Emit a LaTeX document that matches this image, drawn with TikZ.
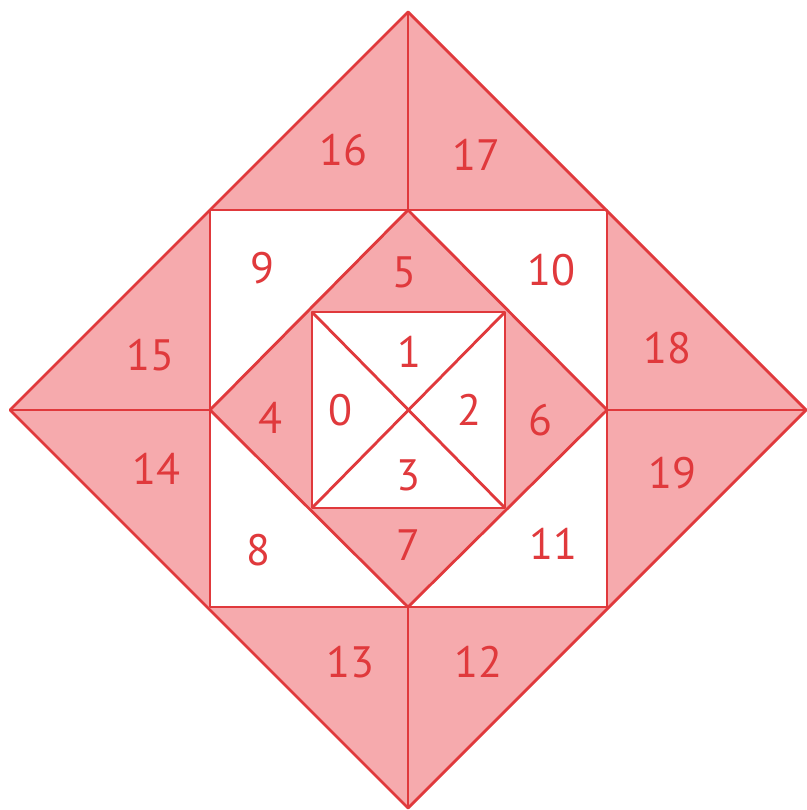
\documentclass[tikz,border=0pt]{standalone}
\usepackage{fontspec}
\setmainfont{PT Sans}
\definecolor{tilered}{HTML}{E0393C}
\definecolor{tilepink}{HTML}{F6AAAD}
\begin{document}
\begin{tikzpicture}[
    x=0.01cm, y=-0.01cm,     % 1 unit = 1 pixel
    edge/.style={draw=tilered, line width=0.8pt, line join=round},
    num/.style={text=tilered, font=\fontsize{12.5}{14}\selectfont}
]
    \useasboundingbox[fill=white] (0,0) rectangle (807,810);

    % --- 1. corner points ---
    \coordinate (T) at (408,12);
    \coordinate (L) at (10,410);
    \coordinate (R) at (806,410);
    \coordinate (B) at (408,808);
    % square
    \coordinate (s1) at (210,210);
    \coordinate (s2) at (607,210);
    \coordinate (s3) at (607,607);
    \coordinate (s4) at (210,607);
    % inner diamond
    \coordinate (dT) at (408,210);
    \coordinate (dR) at (607,410);
    \coordinate (dB) at (408,607);
    \coordinate (dL) at (210,410);
    % inner square
    \coordinate (q1) at (312,312);
    \coordinate (q2) at (505,312);
    \coordinate (q3) at (505,508);
    \coordinate (q4) at (312,508);

    % --- 2. fills ---
    \fill[tilepink] (T) -- (R) -- (B) -- (L) -- cycle;
    \fill[white] (s1) -- (s2) -- (s3) -- (s4) -- cycle;
    \fill[tilepink] (dT) -- (dR) -- (dB) -- (dL) -- cycle;
    \fill[white] (q1) -- (q2) -- (q3) -- (q4) -- cycle;

    % --- 3. lines ---
    \draw[edge] (T) -- (R) -- (B) -- (L) -- cycle;
    \draw[edge] (s1) -- (s2) -- (s3) -- (s4) -- cycle;
    \draw[edge] (dT) -- (dR) -- (dB) -- (dL) -- cycle;
    \draw[edge] (q1) -- (q2) -- (q3) -- (q4) -- cycle;
    \draw[edge] (q1) -- (q3);
    \draw[edge] (q2) -- (q4);
    \draw[edge] (T) -- (dT);
    \draw[edge] (L) -- (dL);
    \draw[edge] (R) -- (dR);
    \draw[edge] (B) -- (dB);

    % --- 4. numbers ---
    \node[num] (n0) at (340,410) {0};
    \node[num] (n1) at (409,352) {1};
    \node[num] (n2) at (469,410) {2};
    \node[num] (n3) at (408,475) {3};
    \node[num] (n4) at (270,418) {4};
    \node[num] (n5) at (404,272) {5};
    \node[num] (n6) at (540,420) {6};
    \node[num] (n7) at (408,545) {7};
    \node[num] (n8) at (258,550) {8};
    \node[num] (n9) at (262,268) {9};
    \node[num] (n10) at (551,270) {10};
    \node[num] (n11) at (553,544) {11};
    \node[num] (n12) at (478,662) {12};
    \node[num] (n13) at (350,662) {13};
    \node[num] (n14) at (156,469) {14};
    \node[num] (n15) at (150,355) {15};
    \node[num] (n16) at (343,150) {16};
    \node[num] (n17) at (476,155) {17};
    \node[num] (n18) at (667,348) {18};
    \node[num] (n19) at (672,473) {19};
\end{tikzpicture}
\end{document}
